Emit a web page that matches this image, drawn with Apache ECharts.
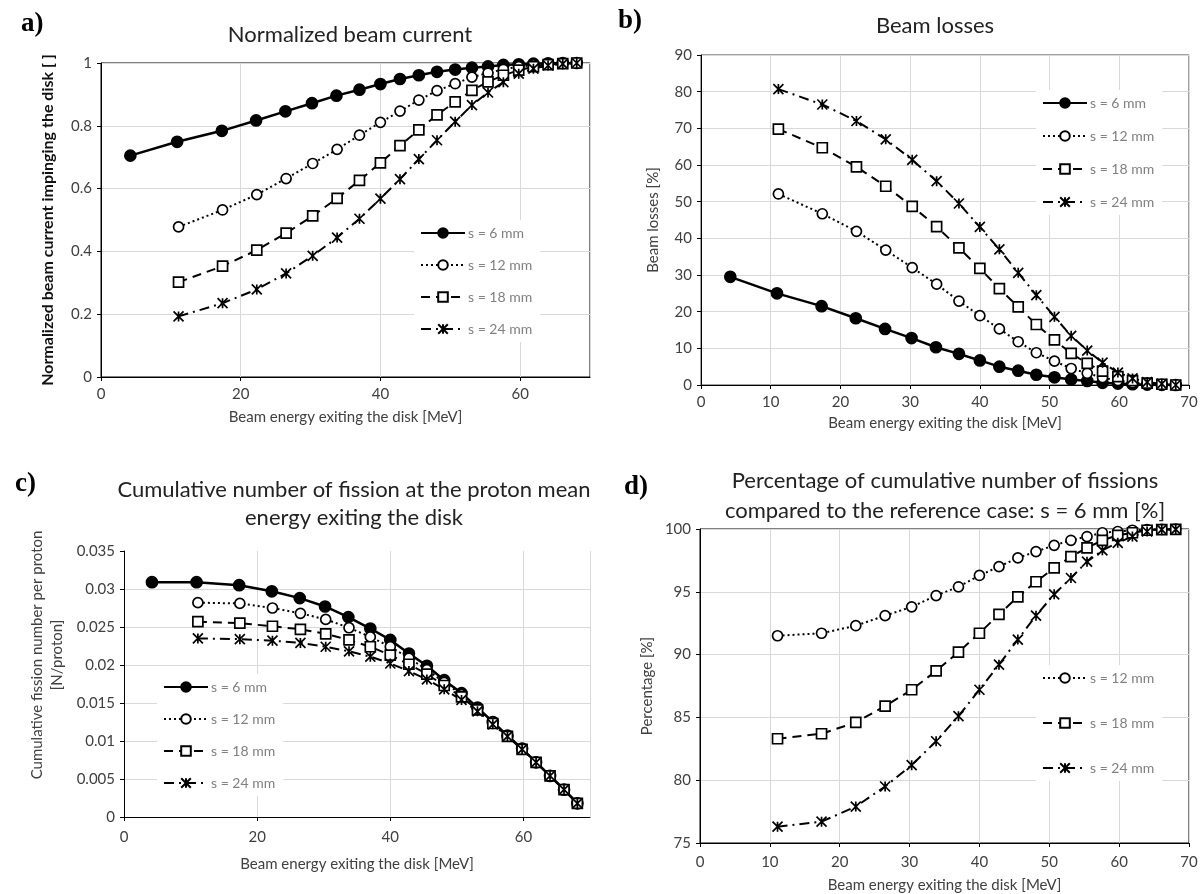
<!DOCTYPE html>
<html><head><meta charset="utf-8">
<script src="https://cdn.jsdelivr.net/npm/echarts@6/dist/echarts.min.js"></script>
<style>html,body{margin:0;padding:0;background:#fff}#c{width:1204px;height:894px}</style>
</head><body><div id="c"></div>
<script>
// ---- data ----
const SERIES_NAMES = ['s = 6 mm', 's = 12 mm', 's = 18 mm', 's = 24 mm'];
const E6 = [4.2, 10.9, 17.3, 22.2, 26.4, 30.2, 33.7, 37.0, 40.0, 42.8, 45.5, 48.1, 50.7, 53.1, 55.4, 57.6, 59.8, 61.9, 64.0, 66.1, 68.1];
const E = [11.1, 17.4, 22.3, 26.5, 30.3, 33.8, 37.0, 40.0, 42.8, 45.5, 48.1, 50.7, 53.1, 55.4, 57.6, 59.8, 61.9, 64.0, 66.1, 68.1];

// a) normalized beam current
const A6 = [0.705, 0.749, 0.784, 0.817, 0.846, 0.872, 0.896, 0.915, 0.933, 0.949, 0.961, 0.972, 0.979, 0.985, 0.989, 0.994, 0.996, 0.998, 0.999, 1.0, 1.0];
const A12 = [0.478, 0.532, 0.581, 0.632, 0.680, 0.725, 0.770, 0.811, 0.847, 0.882, 0.912, 0.934, 0.955, 0.968, 0.980, 0.988, 0.994, 0.997, 0.999, 1.0];
const A18 = [0.302, 0.353, 0.404, 0.458, 0.513, 0.569, 0.626, 0.682, 0.737, 0.787, 0.835, 0.876, 0.913, 0.940, 0.961, 0.977, 0.988, 0.995, 0.998, 1.0];
const A24 = [0.193, 0.235, 0.279, 0.330, 0.386, 0.444, 0.504, 0.568, 0.630, 0.694, 0.754, 0.813, 0.866, 0.906, 0.939, 0.966, 0.982, 0.992, 0.997, 1.0];

// b) beam losses [%]
const B6 = [29.5, 25.0, 21.5, 18.2, 15.3, 12.8, 10.3, 8.5, 6.7, 5.0, 3.9, 2.8, 2.1, 1.5, 1.1, 0.6, 0.4, 0.2, 0.1, 0.05, 0];
const B12 = [52.1, 46.7, 41.9, 36.8, 32.0, 27.5, 22.9, 18.9, 15.3, 11.8, 8.8, 6.5, 4.5, 3.2, 2.0, 1.2, 0.6, 0.3, 0.1, 0];
const B18 = [69.8, 64.7, 59.5, 54.2, 48.7, 43.2, 37.4, 31.8, 26.3, 21.3, 16.5, 12.3, 8.6, 5.9, 3.8, 2.3, 1.2, 0.5, 0.2, 0];
const B24 = [80.7, 76.5, 72.0, 67.0, 61.4, 55.6, 49.5, 43.1, 37.0, 30.6, 24.5, 18.6, 13.4, 9.4, 6.1, 3.4, 1.8, 0.8, 0.3, 0];

// c) cumulative fission number per proton
const C6 = [0.0309, 0.0309, 0.0305, 0.0297, 0.0288, 0.0277, 0.0263, 0.0248, 0.0233, 0.0215, 0.0199, 0.0180, 0.0163, 0.0144, 0.0125, 0.0107, 0.0090, 0.0072, 0.0054, 0.0036, 0.0018];
const C12 = [0.0282, 0.0281, 0.0275, 0.0268, 0.0260, 0.0249, 0.0237, 0.0224, 0.0209, 0.0194, 0.0177, 0.0161, 0.0143, 0.0125, 0.0107, 0.0090, 0.0072, 0.0054, 0.0036, 0.0018];
const C18 = [0.0257, 0.0255, 0.0251, 0.0247, 0.0241, 0.0233, 0.0224, 0.0213, 0.0201, 0.0188, 0.0173, 0.0158, 0.0141, 0.0123, 0.0106, 0.0089, 0.0072, 0.0054, 0.0036, 0.0018];
const C24 = [0.0235, 0.0234, 0.0232, 0.0229, 0.0224, 0.0218, 0.0211, 0.0202, 0.0192, 0.0181, 0.0168, 0.0154, 0.0139, 0.0122, 0.0106, 0.0089, 0.0072, 0.0054, 0.0036, 0.0018];

// d) percentage relative to s = 6 mm
const D12 = [91.5, 91.7, 92.3, 93.1, 93.8, 94.7, 95.4, 96.3, 97.0, 97.7, 98.2, 98.7, 99.1, 99.4, 99.7, 99.8, 99.9, 99.95, 99.97, 100];
const D18 = [83.3, 83.7, 84.6, 85.9, 87.2, 88.7, 90.2, 91.7, 93.2, 94.6, 95.8, 96.9, 97.8, 98.5, 99.1, 99.5, 99.7, 99.9, 99.95, 99.97];
const D24 = [76.3, 76.7, 77.9, 79.5, 81.2, 83.1, 85.1, 87.2, 89.2, 91.2, 93.1, 94.8, 96.1, 97.4, 98.3, 98.9, 99.4, 99.8, 99.95, 99.97];

// ---- styles ----
const FONT = 'Lato, "Open Sans", sans-serif';
const STAR = 'path://M0,0 L10,10 M10,0 L0,10 M5,0 L5,10';
const STYLE = {
  's = 6 mm':  {symbol: 'circle', size: 11, fill: '#000', line: {type: 'solid', width: 2.5}},
  's = 12 mm': {symbol: 'circle', size: 10, fill: '#fff', line: {type: [2, 3], width: 2}},
  's = 18 mm': {symbol: 'rect', size: 10, fill: '#fff', line: {type: [9, 6], width: 2}},
  's = 24 mm': {symbol: STAR, size: 10, fill: '#000', line: {type: [10, 5, 2, 5], width: 2}}
};
function zip(xs, ys) { return ys.map((y, i) => [xs[i], y]); }
function mkSeries(name, xs, ys, idx) {
  const s = STYLE[name];
  return {
    type: 'line', name: name, xAxisIndex: idx, yAxisIndex: idx,
    data: zip(xs, ys), symbol: s.symbol, symbolSize: s.size, showSymbol: true,
    lineStyle: {color: '#000', width: s.line.width, type: s.line.type},
    itemStyle: {color: s.fill, borderColor: '#000', borderWidth: 1.7},
    animation: false, z: 3
  };
}
const GRIDS = [
  {left: 101, top: 63, width: 489, height: 314, show: true, borderColor: '#000', borderWidth: 1},
  {left: 701, top: 55, width: 488, height: 330, show: true, borderColor: '#404040', borderWidth: 1},
  {left: 124, top: 551, width: 466, height: 266, show: false},
  {left: 700, top: 529, width: 489, height: 314, show: true, borderColor: '#000', borderWidth: 1}
];
const labelStyle = {color: '#404040', fontFamily: FONT, fontSize: 15};
const nameStyle = {color: '#404040', fontFamily: FONT, fontSize: 15};
function xAx(idx, interval, gap, margin) {
  return {
    type: 'value', gridIndex: idx, min: 0, max: 70, interval: interval,
    name: 'Beam energy exiting the disk [MeV]', nameLocation: 'middle', nameGap: gap,
    nameTextStyle: nameStyle,
    axisLine: {show: true, lineStyle: {color: '#000', width: 1}},
    axisTick: {show: true, length: 4, lineStyle: {color: '#000'}},
    axisLabel: Object.assign({margin: margin, showMaxLabel: interval === 10}, labelStyle),
    splitLine: {show: true, lineStyle: {color: '#d9d9d9', width: 1}}
  };
}
function yAx(idx, min, max, interval, name, gap, extra) {
  return Object.assign({
    type: 'value', gridIndex: idx, min: min, max: max, interval: interval,
    name: name, nameLocation: 'middle', nameGap: gap, nameTextStyle: nameStyle,
    axisLine: {show: true, lineStyle: {color: '#000', width: 1}},
    axisTick: {show: true, length: 4, lineStyle: {color: '#000'}},
    axisLabel: Object.assign({margin: 9}, labelStyle),
    splitLine: {show: true, lineStyle: {color: '#d9d9d9', width: 1}}
  }, extra || {});
}
function legend(names, left, top, gap) {
  return {
    data: names, orient: 'vertical', left: left, top: top, itemGap: gap,
    itemWidth: 44, itemHeight: 12, backgroundColor: '#fff', padding: [6, 8, 6, 6],
    textStyle: {color: '#808080', fontFamily: FONT, fontSize: 14, padding: [0, 0, 0, -2]},
    selectedMode: false
  };
}
const titleText = {color: '#222', fontFamily: FONT, fontSize: 22, fontWeight: 'normal', lineHeight: 28};
const letterText = {color: '#000', fontFamily: '"Liberation Serif", "DejaVu Serif", serif', fontSize: 27, fontWeight: 'bold'};

const option = {
  backgroundColor: '#fff',
  animation: false,
  title: [
    {text: 'a)', left: 16, top: 6, textStyle: letterText},
    {text: 'b)', left: 613, top: 3, textStyle: letterText},
    {text: 'c)', left: 10, top: 466, textStyle: letterText},
    {text: 'd)', left: 619, top: 469, textStyle: letterText},
    {text: 'Normalized beam current', left: 345, top: 16, textAlign: 'center', textStyle: titleText},
    {text: 'Beam losses', left: 930, top: 7, textAlign: 'center', textStyle: titleText},
    {text: 'Cumulative number of fission at the proton mean\nenergy exiting the disk', left: 349, top: 471,
     textAlign: 'center', textStyle: Object.assign({}, titleText, {lineHeight: 28})},
    {text: 'Percentage of cumulative number of fissions\ncompared to the reference case: s = 6 mm [%]', left: 940, top: 461,
     textAlign: 'center', textStyle: Object.assign({}, titleText, {lineHeight: 30})}
  ],
  legend: [
    legend(SERIES_NAMES, 414, 220, 18),
    legend(SERIES_NAMES, 1036, 90, 19),
    legend(SERIES_NAMES, 157, 674, 18),
    legend(SERIES_NAMES.slice(1), 1036, 665, 31)
  ],
  grid: GRIDS,
  xAxis: [xAx(0, 20, 33, 10), xAx(1, 10, 31, 10), xAx(2, 20, 40, 13), xAx(3, 10, 35, 12)],
  yAxis: [
    yAx(0, 0, 1, 0.2, 'Normalized beam current impinging the disk [ ]', 45,
        {nameTextStyle: Object.assign({}, nameStyle, {fontSize: 16, fontWeight: 'bold', color: '#111'})}),
    yAx(1, 0, 90, 10, 'Beam losses [%]', 40),
    yAx(2, 0, 0.035, 0.005, 'Cumulative fission number per proton\n[N/proton]', 57,
        {nameTextStyle: Object.assign({}, nameStyle, {lineHeight: 20, padding: [0, 0, 0, 58]}),
         splitLine: {show: true, showMaxLine: false, lineStyle: {color: '#d9d9d9', width: 1}}}),
    yAx(3, 75, 100, 5, 'Percentage [%]', 45)
  ],
  series: [
    mkSeries('s = 6 mm', E6, A6, 0), mkSeries('s = 12 mm', E, A12, 0), mkSeries('s = 18 mm', E, A18, 0), mkSeries('s = 24 mm', E, A24, 0),
    mkSeries('s = 6 mm', E6, B6, 1), mkSeries('s = 12 mm', E, B12, 1), mkSeries('s = 18 mm', E, B18, 1), mkSeries('s = 24 mm', E, B24, 1),
    mkSeries('s = 6 mm', E6, C6, 2), mkSeries('s = 12 mm', E, C12, 2), mkSeries('s = 18 mm', E, C18, 2), mkSeries('s = 24 mm', E, C24, 2),
    mkSeries('s = 12 mm', E, D12, 3), mkSeries('s = 18 mm', E, D18, 3), mkSeries('s = 24 mm', E, D24, 3)
  ]
};
const chart = echarts.init(document.getElementById('c'), null, {renderer: 'canvas'});
chart.setOption(option);
</script>
</body></html>
